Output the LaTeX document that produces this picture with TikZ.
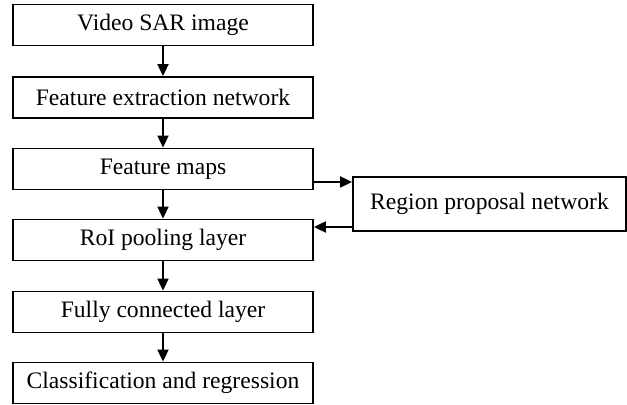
\documentclass[tikz,border=0pt]{standalone}
\usepackage{fontspec}
\setmainfont{Liberation Serif}
\usetikzlibrary{arrows.meta}
\tikzset{>={Triangle[length=6pt,width=5.5pt]}}
\tikzset{stage/.style={draw, line width=0.9pt, minimum width=150pt, minimum height=20.5pt, inner sep=0pt, font=\fontsize{11.8}{14}\selectfont}}

\begin{document}
\begin{tikzpicture}[x=0.5pt, y=-0.5pt, line width=0.9pt]
\useasboundingbox (0,0) rectangle (627,405);
\node[stage] (img) at (163,25) {Video SAR image};
\node[stage] (fen) at (163,97.5) {Feature extraction network};
\node[stage] (fm) at (163,169) {Feature maps};
\node[stage] (roi) at (163,240) {RoI pooling layer};
\node[stage] (fc) at (163,312) {Fully connected layer};
\node[stage] (cls) at (163,383) {Classification and regression};
\node[stage, minimum width=136.5pt, minimum height=27pt] (rpn) at (489.5,204) {Region proposal network};
\draw[->] (img) -- (fen);
\draw[->] (fen) -- (fm);
\draw[->] (fm) -- (roi);
\draw[->] (roi) -- (fc);
\draw[->] (fc) -- (cls);
\draw[->] ([yshift=-6.5pt]fm.east) -- ([yshift=-6.5pt]fm.east -| rpn.west);
\draw[->] ([yshift=6.5pt]roi.east -| rpn.west) -- ([yshift=6.5pt]roi.east);
\end{tikzpicture}
\end{document}
